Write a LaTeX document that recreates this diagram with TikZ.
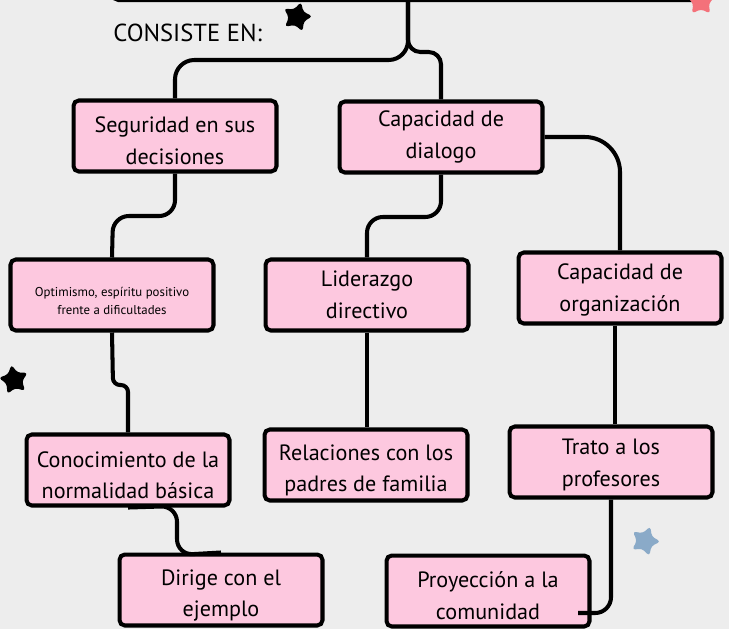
\documentclass[tikz,border=0pt]{standalone}
\usepackage{fontspec}
\setmainfont{PT Sans}
\usetikzlibrary{shapes.geometric}
\definecolor{fondo}{HTML}{EDEDED}
\definecolor{rosa}{HTML}{FDC8DF}
\definecolor{azul}{HTML}{8AAAC8}
\definecolor{coral}{HTML}{F4717A}
\tikzset{
	caja/.style={draw=black, fill=rosa, line width=2.3pt, rounded corners=3pt, minimum width=4.06cm, minimum height=1.42cm, inner sep=2pt, align=center, font=\fontsize{12.6}{18}\selectfont},
	conector/.style={line width=2.3pt, rounded corners=9pt},
	estrella/.style={star, star points=5, star point ratio=1.9, minimum size=0.62cm, inner sep=0pt, rounded corners=1.8pt}
}
\newcommand{\alto}[1]{\rule{0pt}{#1}}
\newcommand{\estrella}[5]{\node[estrella, fill=#4, rotate=#5] (#1) at (#2,#3) {};}

\begin{document}
\begin{tikzpicture}[x=0.02cm, y=-0.02cm]

	\useasboundingbox (0,0) rectangle (729,629);
	\fill[fondo] (0,0) rectangle (729,629);
	\clip (0,0) rectangle (729,629);

    \node[caja, anchor=south, minimum width=11.8cm, minimum height=1.6cm] (tema) at (408,2) {};
    \node[font=\fontsize{14}{16}\selectfont, anchor=west, inner sep=0pt] (consiste) at (113,33) {CONSISTE EN:};

    \node[caja] (seg) at (175,136) {\alto{14.5pt}Seguridad en sus\\decisiones};
    \node[caja] (dia) at (441,137) {Capacidad de\\dialogo};
    \node[caja, font=\fontsize{7.3}{10.5}\selectfont] (opt) at (112,295) {\alto{12pt}Optimismo, espíritu positivo\\frente a dificultades};
    \node[caja] (lid) at (367,295) {Liderazgo\\directivo};
    \node[caja] (org) at (620,288) {\alto{11pt}Capacidad de\\organización};
    \node[caja] (con) at (128,470) {\alto{15pt}Conocimiento de la\\normalidad básica};
    \node[caja] (rel) at (366,465) {\alto{15pt}Relaciones con los\\padres de familia};
    \node[caja] (tra) at (611,462) {\alto{12.5pt}Trato a los\\profesores};
    \node[caja] (dir) at (221,590) {\alto{15pt}Dirige con el\\ejemplo};
    \node[caja] (pro) at (488,591) {\alto{14.5pt}Proyección a la\\comunidad};

    \coordinate (fin) at (578,613);

    \draw[conector, rounded corners=11pt] (tema.south) -- (408,60) -- (175,60) -- (seg.north);
    \draw[conector, rounded corners=7pt] (tema.south) -- (408,52) -- (441,52) -- (dia.north);
    \draw[conector] (seg.south) -- (175,216) -- (113,216) -- (opt.north);
    \draw[conector, rounded corners=4pt] (opt.south) -- (113,385) -- (128,385) -- (con.north);
    \draw[conector] (con.south) -- (177,506) -- (177,555) -- (dir.north);
    \draw[conector] (dia.south) -- (441,217) -- (367,217) -- (lid.north);
    \draw[conector, rounded corners=20pt] (dia.east) -- (620,137) -- (org.north);
    \draw[conector] (lid.south) -- (rel.north -| lid.south);
    \draw[conector] (org.south -| 615,0) -- (tra.north -| 615,0);
    \draw[conector] (tra.south) -- (611,613) -- (fin);

    \estrella{e1}{297}{17}{black}{-15}
    \estrella{e2}{14}{380}{black}{10}
    \estrella{e3}{645}{541}{azul}{-20}
    \estrella{e4}{701}{1}{coral}{0}

\end{tikzpicture}
\end{document}
